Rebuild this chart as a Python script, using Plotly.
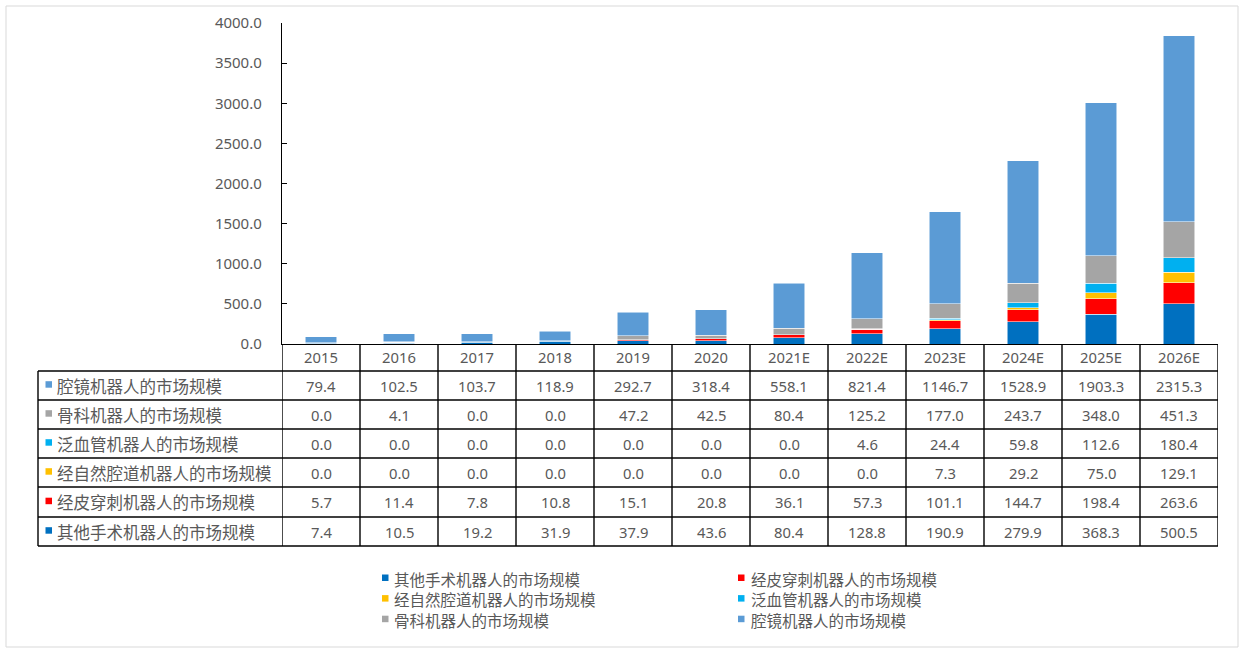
import plotly.graph_objects as go

W, H = 1245, 655

categories = ["2015", "2016", "2017", "2018", "2019", "2020",
              "2021E", "2022E", "2023E", "2024E", "2025E", "2026E"]

# series, listed from bottom of the stack to top
other_vals = [7.4, 10.5, 19.2, 31.9, 37.9, 43.6, 80.4, 128.8, 190.9, 279.9, 368.3, 500.5]
percutaneous_vals = [5.7, 11.4, 7.8, 10.8, 15.1, 20.8, 36.1, 57.3, 101.1, 144.7, 198.4, 263.6]
natural_orifice_vals = [0.0, 0.0, 0.0, 0.0, 0.0, 0.0, 0.0, 0.0, 7.3, 29.2, 75.0, 129.1]
vascular_vals = [0.0, 0.0, 0.0, 0.0, 0.0, 0.0, 0.0, 4.6, 24.4, 59.8, 112.6, 180.4]
orthopedic_vals = [0.0, 4.1, 0.0, 0.0, 47.2, 42.5, 80.4, 125.2, 177.0, 243.7, 348.0, 451.3]
laparoscopic_vals = [79.4, 102.5, 103.7, 118.9, 292.7, 318.4, 558.1, 821.4, 1146.7, 1528.9, 1903.3, 2315.3]

series_names = ["其他手术机器人的市场规模", "经皮穿刺机器人的市场规模", "经自然腔道机器人的市场规模",
                "泛血管机器人的市场规模", "骨科机器人的市场规模", "腔镜机器人的市场规模"]
series_vals = [other_vals, percutaneous_vals, natural_orifice_vals,
               vascular_vals, orthopedic_vals, laparoscopic_vals]
series_colors = ["#0070C0", "#FF0000", "#FFC000", "#00B0F0", "#A5A5A5", "#5B9BD5"]

y_ticks = [0, 500, 1000, 1500, 2000, 2500, 3000, 3500, 4000]

TXT = "#595959"
CJK = "Noto Sans CJK SC"
NUM = "Noto Sans, Noto Sans CJK SC"


def px(x):
    return x / W


def py(y):
    return 1 - y / H


fig = go.Figure()
for name, vals, col in zip(series_names, series_vals, series_colors):
    fig.add_trace(go.Bar(
        x=categories, y=vals, name=name, width=0.41,
        marker=dict(color=col, line=dict(color="rgba(255,255,255,0.65)", width=0.8)),
        showlegend=False,
    ))

shapes = []
annotations = []

# outer frame
shapes.append(dict(type="rect", xref="paper", yref="paper",
                   x0=px(6), x1=px(1238), y0=py(647), y1=py(6),
                   line=dict(color="#D9D9D9", width=1)))

# data table grid
row_bounds = [371, 400, 429, 458, 487, 517, 546]
LINE = dict(color="#000000", width=1.4)
for k in range(len(categories) + 1):
    shapes.append(dict(type="line", xref="x", yref="paper",
                       x0=k - 0.5, x1=k - 0.5, y0=py(344), y1=py(546), line=LINE))
for yb in row_bounds:
    shapes.append(dict(type="line", xref="paper", yref="paper",
                       x0=px(38), x1=px(1218), y0=py(yb), y1=py(yb), line=LINE))
shapes.append(dict(type="line", xref="paper", yref="paper",
                   x0=px(38), x1=px(38), y0=py(371), y1=py(546), line=LINE))

# table rows: top row = top of stack
table_order = list(range(len(series_names)))[::-1]
for r, si in enumerate(table_order):
    yc = (row_bounds[r] + row_bounds[r + 1]) / 2
    shapes.append(dict(type="rect", xref="paper", yref="paper",
                       x0=px(45.5), x1=px(52), y0=py(yc + 2.2), y1=py(yc - 4.3),
                       fillcolor=series_colors[si], line=dict(width=0)))
    annotations.append(dict(xref="paper", yref="paper", x=px(56), y=py(yc),
                            xanchor="left", yanchor="middle", showarrow=False, borderpad=0,
                            text=series_names[si], font=dict(family=CJK, size=16.5, color=TXT)))
    for ci, v in enumerate(series_vals[si]):
        annotations.append(dict(xref="x", yref="paper", x=ci, y=py(yc),
                                xanchor="center", yanchor="middle", showarrow=False, borderpad=0,
                                text=f"{v:.1f}", font=dict(family=NUM, size=14.8, color=TXT)))

# legend (two columns)
legend_cols = [[0, 2, 4], [1, 3, 5]]
legend_x = [(382, 393), (738, 750)]
legend_y = [578.8, 599.4, 620]
for (sx, tx), col_items in zip(legend_x, legend_cols):
    for yy, si in zip(legend_y, col_items):
        shapes.append(dict(type="rect", xref="paper", yref="paper",
                           x0=px(sx), x1=px(sx + 6.5), y0=py(yy + 2.2), y1=py(yy - 4.3),
                           fillcolor=series_colors[si], line=dict(width=0)))
        annotations.append(dict(xref="paper", yref="paper", x=px(tx), y=py(yy),
                                xanchor="left", yanchor="middle", showarrow=False, borderpad=0,
                                text=series_names[si], font=dict(family=CJK, size=15.5, color=TXT)))

fig.update_layout(
    width=W, height=H,
    margin=dict(l=0, r=0, t=0, b=0, pad=0, autoexpand=False),
    paper_bgcolor="white", plot_bgcolor="white",
    barmode="stack", bargap=0.59,
    showlegend=False,
    shapes=shapes, annotations=annotations,
    xaxis=dict(type="category", categoryorder="array", categoryarray=categories,
               range=[-0.5, len(categories) - 0.5],
               domain=[px(282), px(1218)],
               showline=True, linecolor="#000000", linewidth=1.4,
               ticks="", showgrid=False, zeroline=False, automargin=False,
               tickfont=dict(family=NUM, size=14.8, color=TXT),
               ticklabelstandoff=0),
    yaxis=dict(range=[0, 4000], domain=[py(344), py(23)],
               tickvals=y_ticks, tickformat=".1f",
               ticks="inside", ticklen=5, tickcolor="#000000", tickwidth=1,
               showline=True, linecolor="#000000", linewidth=1.4,
               showgrid=False, zeroline=False, automargin=False,
               tickfont=dict(family=NUM, size=15, color=TXT),
               ticklabelstandoff=16),
)

fig.write_html("out.html")
